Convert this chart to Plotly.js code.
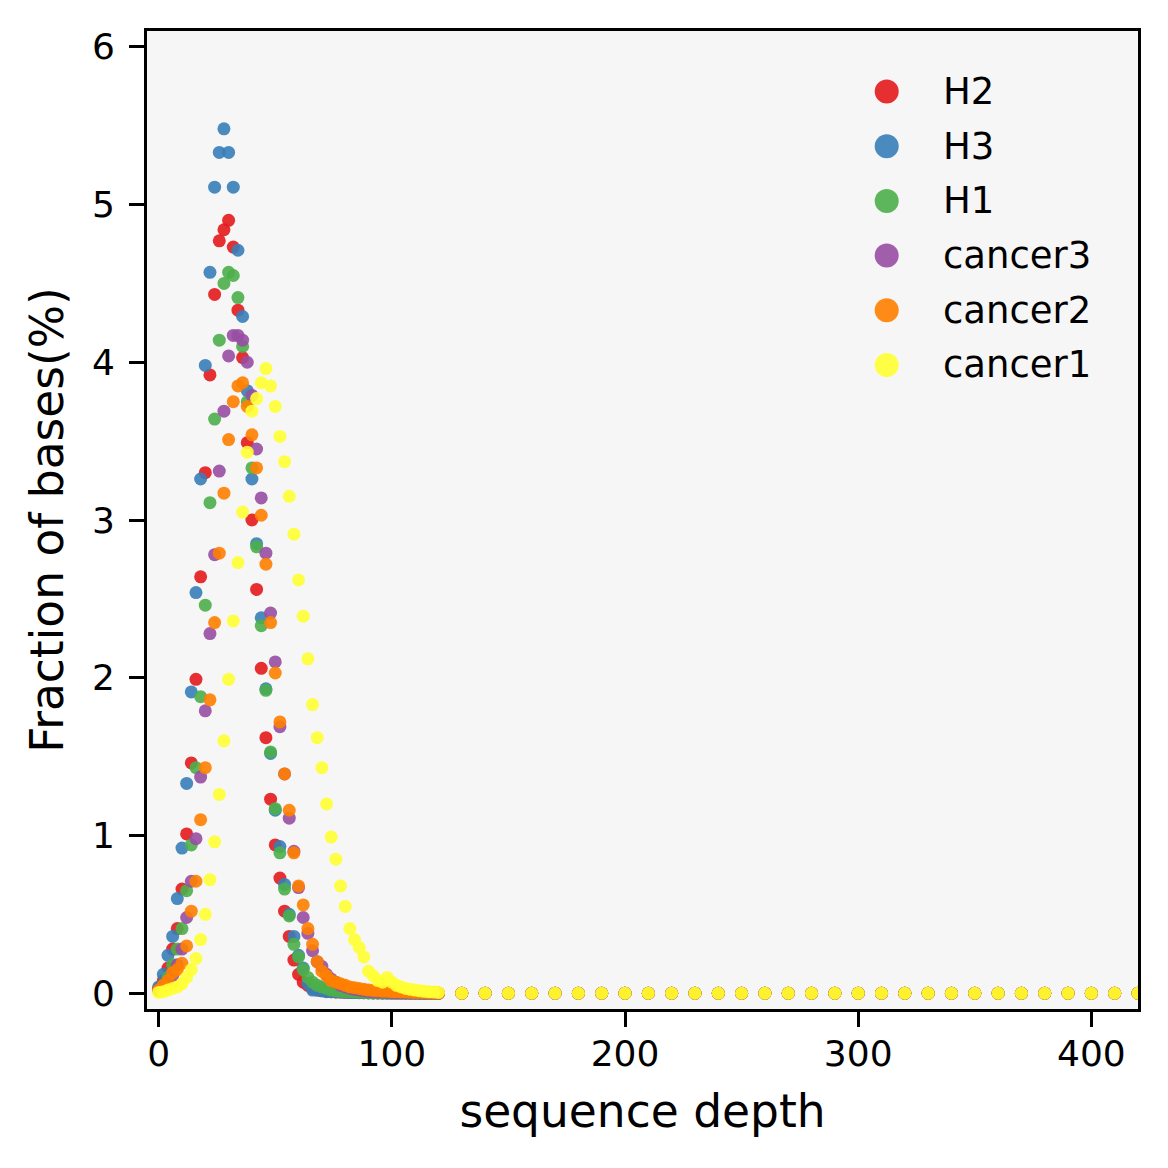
<!DOCTYPE html>
<html>
<head>
<meta charset="utf-8">
<script src="https://cdn.plot.ly/plotly-3.0.1.min.js"></script>
<style>
  html, body { margin: 0; padding: 0; background: #ffffff; }
  #chart { width: 1168px; height: 1168px; }
</style>
</head>
<body>
<div id="chart"></div>
<script>
// Sequencing depth (x): every 2 up to 120, then every 10 up to 420
const depth = [
  0, 2, 4, 6, 8, 10, 12, 14, 16, 18,
  20, 22, 24, 26, 28, 30, 32, 34, 36, 38,
  40, 42, 44, 46, 48, 50, 52, 54, 56, 58,
  60, 62, 64, 66, 68, 70, 72, 74, 76, 78,
  80, 82, 84, 86, 88, 90, 92, 94, 96, 98,
  100, 102, 104, 106, 108, 110, 112, 114, 116, 118,
  120,
  130, 140, 150, 160, 170, 180, 190, 200, 210, 220,
  230, 240, 250, 260, 270, 280, 290, 300, 310, 320,
  330, 340, 350, 360, 370, 380, 390, 400, 410, 420
];

// Fraction of bases (%) at each depth, one array per sample
const H2 = [
  0.03, 0.08, 0.16, 0.28, 0.41, 0.66, 1.01, 1.46, 1.99, 2.64,
  3.30, 3.92, 4.43, 4.77, 4.84, 4.90, 4.73, 4.33, 4.03, 3.49,
  3.00, 2.56, 2.06, 1.62, 1.23, 0.94, 0.73, 0.52, 0.36, 0.21,
  0.12, 0.07, 0.05, 0.03, 0.02, 0.015, 0.012, 0.010, 0.008, 0.007,
  0.006, 0.005, 0.004, 0.004, 0.003, 0.003, 0.002, 0.002, 0.002, 0.002,
  0.001, 0.001, 0.001, 0.001, 0.001, 0.001, 0, 0, 0, 0,
  0,
  0, 0, 0, 0, 0, 0, 0, 0, 0, 0,
  0, 0, 0, 0, 0, 0, 0, 0, 0, 0,
  0, 0, 0, 0, 0, 0, 0, 0, 0, 0
];

const H3 = [
  0.04, 0.12, 0.24, 0.36, 0.60, 0.92, 1.33, 1.91, 2.54, 3.26,
  3.98, 4.57, 5.11, 5.33, 5.48, 5.33, 5.11, 4.71, 4.29, 3.82,
  3.26, 2.85, 2.38, 1.93, 1.52, 1.16, 0.93, 0.69, 0.50, 0.36,
  0.24, 0.16, 0.06, 0.02, 0.02, 0.015, 0.010, 0.010, 0.008, 0.007,
  0.006, 0.005, 0.004, 0.003, 0.003, 0.002, 0.002, 0.002, 0.001, 0.001,
  0.001, 0.001, 0.001, 0, 0, 0, 0, 0, 0, 0,
  0,
  0, 0, 0, 0, 0, 0, 0, 0, 0, 0,
  0, 0, 0, 0, 0, 0, 0, 0, 0, 0,
  0, 0, 0, 0, 0, 0, 0, 0, 0, 0
];

const H1 = [
  0.02, 0.05, 0.10, 0.18, 0.28, 0.41, 0.65, 0.94, 1.43, 1.88,
  2.46, 3.11, 3.64, 4.14, 4.50, 4.57, 4.55, 4.41, 4.10, 3.75,
  3.33, 2.83, 2.33, 1.92, 1.53, 1.17, 0.89, 0.66, 0.49, 0.31,
  0.23, 0.15, 0.10, 0.07, 0.05, 0.04, 0.03, 0.02, 0.015, 0.012,
  0.010, 0.008, 0.007, 0.006, 0.005, 0.004, 0.003, 0.003, 0.002, 0.002,
  0.002, 0.001, 0.001, 0.001, 0.001, 0, 0, 0, 0, 0,
  0,
  0, 0, 0, 0, 0, 0, 0, 0, 0, 0,
  0, 0, 0, 0, 0, 0, 0, 0, 0, 0,
  0, 0, 0, 0, 0, 0, 0, 0, 0, 0
];

const cancer3 = [
  0.02, 0.04, 0.07, 0.11, 0.18, 0.28, 0.48, 0.71, 0.98, 1.37,
  1.79, 2.28, 2.78, 3.31, 3.69, 4.04, 4.17, 4.17, 4.14, 4.00,
  3.79, 3.45, 3.14, 2.79, 2.41, 2.10, 1.69, 1.39, 1.11, 0.90,
  0.67, 0.48, 0.38, 0.27, 0.20, 0.17, 0.12, 0.09, 0.07, 0.05,
  0.04, 0.03, 0.025, 0.02, 0.015, 0.012, 0.010, 0.008, 0.007, 0.006,
  0.005, 0.004, 0.003, 0.003, 0.002, 0.002, 0.001, 0.001, 0.001, 0.001,
  0,
  0, 0, 0, 0, 0, 0, 0, 0, 0, 0,
  0, 0, 0, 0, 0, 0, 0, 0, 0, 0,
  0, 0, 0, 0, 0, 0, 0, 0, 0, 0
];

const cancer2 = [
  0.02, 0.05, 0.08, 0.13, 0.15, 0.19, 0.30, 0.52, 0.71, 1.10,
  1.43, 1.86, 2.35, 2.79, 3.17, 3.51, 3.75, 3.85, 3.87, 3.72,
  3.54, 3.33, 3.03, 2.72, 2.35, 2.03, 1.72, 1.39, 1.16, 0.89,
  0.68, 0.56, 0.41, 0.31, 0.20, 0.14, 0.11, 0.08, 0.07, 0.06,
  0.05, 0.04, 0.035, 0.03, 0.025, 0.02, 0.018, 0.015, 0.013, 0.012,
  0.010, 0.009, 0.008, 0.007, 0.006, 0.005, 0.004, 0.003, 0.002, 0.002,
  0.001,
  0, 0, 0, 0, 0, 0, 0, 0, 0, 0,
  0, 0, 0, 0, 0, 0, 0, 0, 0, 0,
  0, 0, 0, 0, 0, 0, 0, 0, 0, 0
];

const cancer1 = [
  0.005, 0.01, 0.02, 0.03, 0.04, 0.06, 0.10, 0.15, 0.22, 0.34,
  0.50, 0.72, 0.96, 1.26, 1.60, 1.99, 2.36, 2.73, 3.05, 3.43,
  3.69, 3.77, 3.87, 3.96, 3.85, 3.72, 3.53, 3.37, 3.15, 2.91,
  2.62, 2.39, 2.12, 1.83, 1.62, 1.43, 1.20, 0.99, 0.85, 0.68,
  0.55, 0.41, 0.34, 0.29, 0.23, 0.14, 0.11, 0.08, 0.07, 0.10,
  0.07, 0.05, 0.04, 0.03, 0.025, 0.02, 0.015, 0.012, 0.010, 0.008,
  0.005,
  0, 0, 0, 0, 0, 0, 0, 0, 0, 0,
  0, 0, 0, 0, 0, 0, 0, 0, 0, 0,
  0, 0, 0, 0, 0, 0, 0, 0, 0, 0
];

const sampleNames = ['H2', 'H3', 'H1', 'cancer3', 'cancer2', 'cancer1'];
const sampleColors = ['#e41a1c', '#377eb8', '#4daf4a', '#984ea3', '#ff7f00', '#ffff33'];
const sampleValues = [H2, H3, H1, cancer3, cancer2, cancer1];

const FONT = 'DejaVu Sans, Liberation Sans, sans-serif';

// Plot area in pixels
const PLOT = { left: 147, right: 1138, top: 31, bottom: 1009 };
const plotW = PLOT.right - PLOT.left;
const plotH = PLOT.bottom - PLOT.top;

const traces = sampleNames.map((name, i) => ({
  type: 'scatter',
  mode: 'markers',
  name: name,
  x: depth,
  y: sampleValues[i],
  marker: { color: sampleColors[i], size: 13, opacity: 0.9, line: { width: 0 } },
  showlegend: false,
  hoverinfo: 'skip'
}));

// Legend: large dots on an overlay axis spanning the plot area, labels as annotations
const legendDotX = (886.7 - PLOT.left) / plotW;
const legendTextX = (941 - PLOT.left) / plotW;
const legendRowY = sampleNames.map((_, i) => (PLOT.bottom - (91.5 + i * 54.7)) / plotH);

traces.push({
  type: 'scatter',
  mode: 'markers',
  x: sampleNames.map(() => legendDotX),
  y: legendRowY,
  xaxis: 'x2',
  yaxis: 'y2',
  marker: { color: sampleColors, size: 24, opacity: 0.9, line: { width: 0 } },
  cliponaxis: false,
  showlegend: false,
  hoverinfo: 'skip'
});

const annotations = sampleNames.map((name, i) => ({
  xref: 'paper', yref: 'paper',
  x: legendTextX, y: legendRowY[i],
  xanchor: 'left', yanchor: 'middle',
  text: name,
  showarrow: false,
  font: { family: FONT, size: 37, color: '#000000' }
}));

const axisCommon = {
  showline: true,
  mirror: true,
  linecolor: '#000000',
  linewidth: 3,
  ticks: 'outside',
  ticklen: 15,
  tickwidth: 3,
  tickcolor: '#000000',
  showgrid: false,
  zeroline: false,
  tickfont: { family: FONT, size: 36, color: '#000000' }
};

const layout = {
  width: 1168,
  height: 1168,
  margin: { l: PLOT.left, r: 1168 - PLOT.right, t: PLOT.top, b: 1168 - PLOT.bottom, pad: 0 },
  paper_bgcolor: '#ffffff',
  plot_bgcolor: '#f6f6f6',
  font: { family: FONT, color: '#000000' },
  showlegend: false,
  xaxis: Object.assign({}, axisCommon, {
    range: [-5, 420],
    tick0: 0,
    dtick: 100,
    ticklabelstandoff: -4,
    title: { text: 'sequence depth', font: { family: FONT, size: 45.5, color: '#000000' }, standoff: 22 }
  }),
  yaxis: Object.assign({}, axisCommon, {
    range: [-0.1, 6.1],
    tick0: 0,
    dtick: 1,
    ticklabelstandoff: 7,
    title: { text: 'Fraction of bases(%)', font: { family: FONT, size: 45.5, color: '#000000' }, standoff: 14 }
  }),
  xaxis2: { overlaying: 'x', range: [0, 1], visible: false, fixedrange: true },
  yaxis2: { overlaying: 'y', range: [0, 1], visible: false, fixedrange: true },
  annotations: annotations
};

Plotly.newPlot('chart', traces, layout, { staticPlot: true, displayModeBar: false });
</script>
</body>
</html>
